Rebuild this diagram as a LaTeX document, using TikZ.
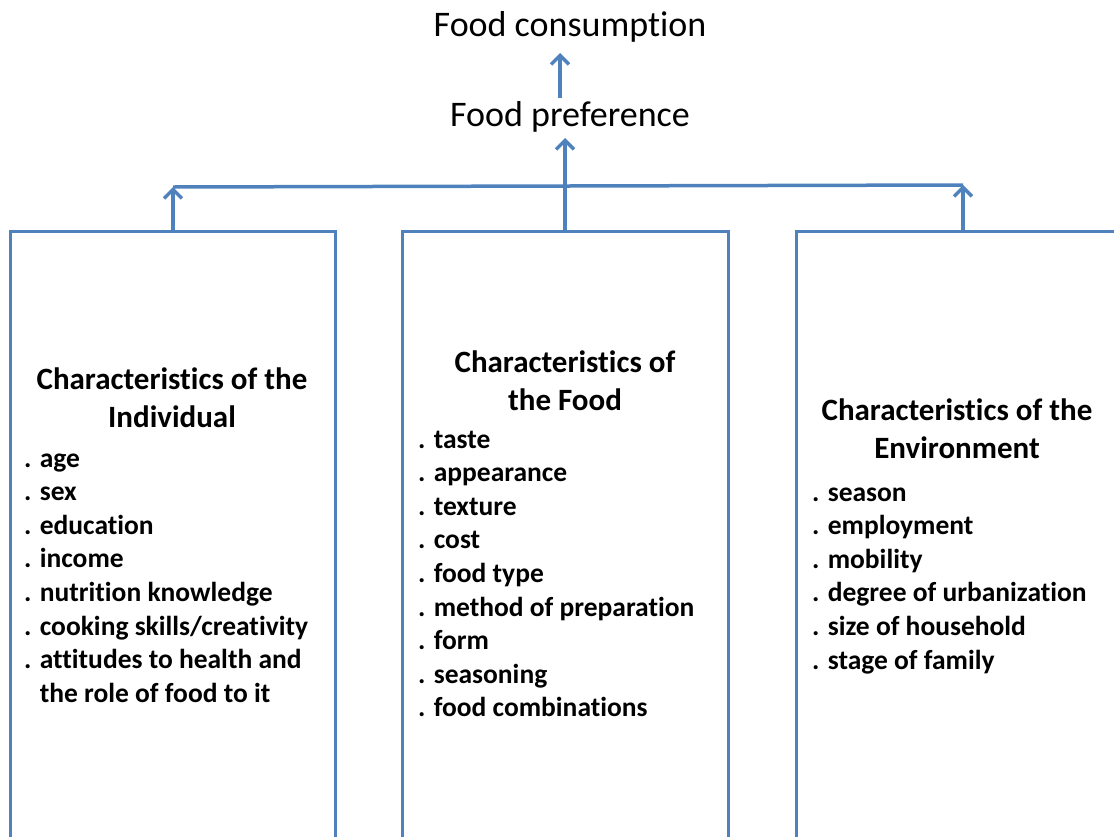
\documentclass[tikz,border=0pt]{standalone}
\usepackage{fontspec}
\setmainfont{Carlito}[Ligatures=NoCommon]
\usetikzlibrary{arrows.meta}
\definecolor{linkblue}{RGB}{79,129,189}

\begin{document}
\begin{tikzpicture}[x=1pt, y=-1pt,
    frame/.style={draw=linkblue, line width=3pt, anchor=north west,
      minimum height=640pt, inner sep=0pt, outer sep=0pt},
    link/.style={draw=linkblue, line width=3.5pt},
    arrow/.style={link, -{Straight Barb[length=9pt, width=18pt]}},
    title/.style={font=\fontsize{36}{40}\selectfont, anchor=base, inner sep=0pt},
    heading/.style={font=\fontsize{31}{38}\selectfont\bfseries, align=center,
      anchor=base, inner sep=0pt},
    item/.style={font=\fontsize{27.5}{33}\selectfont\bfseries, anchor=base west,
      inner sep=0pt}]
    \useasboundingbox (0, 0) rectangle (1114, 836);
    \clip (0, 0) rectangle (1114, 836);

    \node[title] (cons) at (570, 36) {Food consumption};
    \node[title] (pref) at (570, 126) {Food preference};

    \node[frame, minimum width=325pt] (indiv) at (10, 231) {};
    \node[frame, minimum width=326pt] (food) at (402, 231) {};
    \node[frame, minimum width=340pt] (env) at (796, 231) {};

    \coordinate (barL) at (173, 187);
    \coordinate (barR) at (963, 185);

    \draw[link] (barL) -- (barR);
    \draw[arrow] (barL |- indiv.north) -- (barL);
    \draw[arrow] (barR |- env.north) -- (barR);
    \draw[arrow, shorten >=6pt] (food.north) -- (pref.south -| food.north);
    \draw[arrow, shorten <=3pt, shorten >=11pt]
      ([xshift=-10pt]pref.north) -- ([xshift=-10pt]cons.south);

    \node[heading] (indiv-head) at (172, 427) {Characteristics of the\\Individual};
    \node[heading] (food-head) at (565, 410) {Characteristics of\\the Food};
    \node[heading] (env-head) at (957, 458) {Characteristics of the\\Environment};

    \foreach \txt [count=\i] in {. age, . sex, . education, . income,
        . nutrition knowledge, . cooking skills/creativity,
        . attitudes to health and, \hphantom{. }the role of food to it} {
      \node[item] (indiv-\i) at (24, {467+33.6*(\i-1)}) {\txt};
    }
    \foreach \txt [count=\i] in {. taste, . appearance, . texture, . cost,
        . food type, . method of preparation, . form, . seasoning,
        . food combinations} {
      \node[item] (food-\i) at (418, {448+33.6*(\i-1)}) {\txt};
    }
    \foreach \txt [count=\i] in {. season, . employment, . mobility,
        . degree of urbanization, . size of household, . stage of family} {
      \node[item] (env-\i) at (812, {501+33.6*(\i-1)}) {\txt};
    }
  \end{tikzpicture}
\end{document}
